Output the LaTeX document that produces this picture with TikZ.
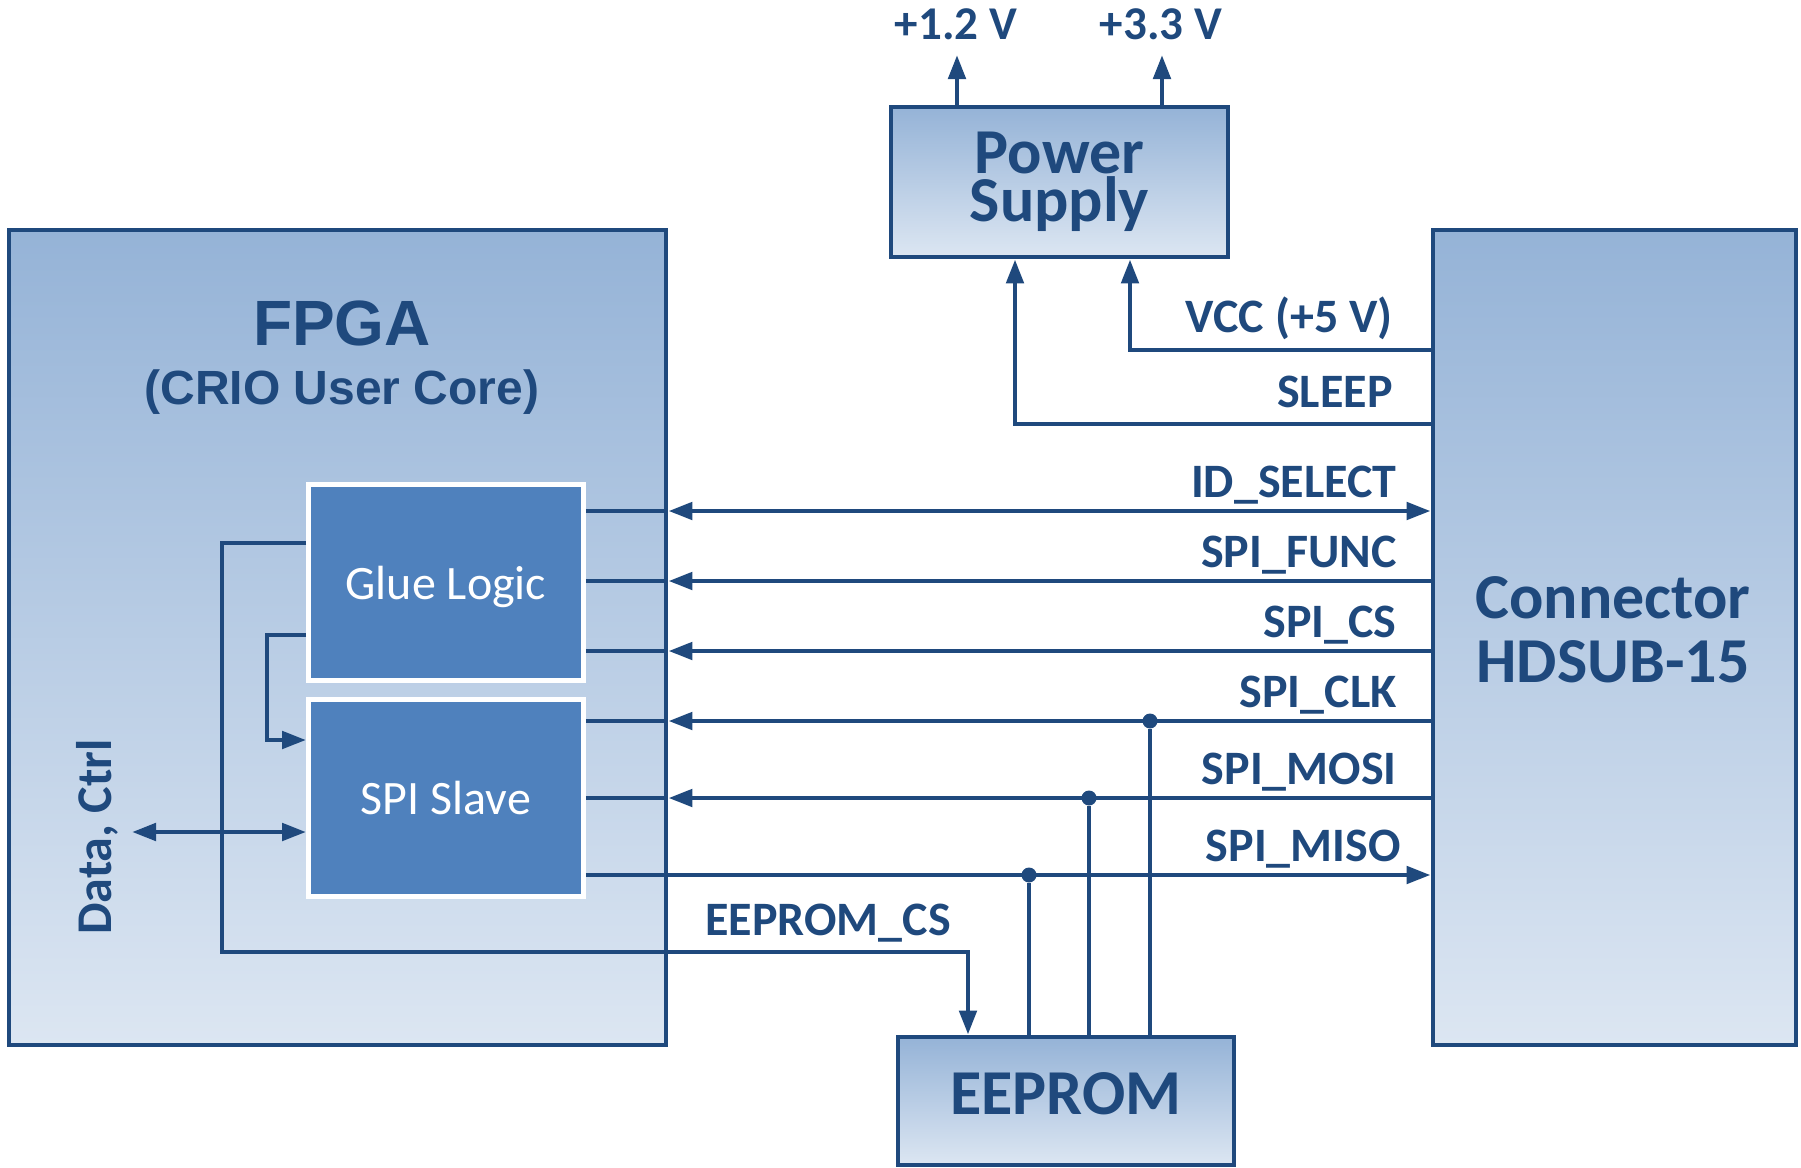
\documentclass[tikz,border=0pt]{standalone}
\usepackage{fontspec}
\setmainfont{Carlito}
\newfontfamily\arialfont{Liberation Sans}
\usetikzlibrary{arrows.meta}

\definecolor{dkblue}{HTML}{1F497D}
\definecolor{midblue}{HTML}{4F81BD}
\definecolor{topblue}{HTML}{95B3D7}
\definecolor{botblue}{HTML}{DCE6F2}

\tikzset{
  block/.style = {draw = dkblue, line width = 2.4pt, top color = topblue, bottom color = botblue,
                  text = dkblue, inner sep = 0pt, align = center},
  core/.style = {draw = white, line width = 2.4pt, fill = midblue, text = white, inner sep = 0pt,
                 text depth = 0pt, minimum width = 137.5pt, minimum height = 98pt,
                 font = \fontsize{24}{28}\selectfont},
  title/.style = {text = dkblue, inner sep = 0pt, align = center, font = \bfseries\fontsize{32}{32}\selectfont},
  wire/.style = {dkblue, line width = 2.4pt},
  sig/.style = {text = dkblue, inner sep = 0pt, anchor = base east, font = \bfseries\fontsize{24}{28}\selectfont},
  jdot/.style = {circle, fill = dkblue, inner sep = 0pt, minimum size = 7.5pt},
  >={Triangle[length = 12pt, width = 8.5pt]}
}

\begin{document}
\begin{tikzpicture}[x = 0.5pt, y = -0.5pt]
        \useasboundingbox (0,0) rectangle (1801,1168);

        % blocks
        \node[block, minimum width = 168.5pt, minimum height = 75pt, font = \bfseries\fontsize{32}{24}\selectfont]
            (power) at (1059.5,182) {Power\\Supply};
        \node[block, minimum width = 328.5pt, minimum height = 407.5pt] (fpga) at (337.5,637.5) {};
        \node[block, minimum width = 181.5pt, minimum height = 407.5pt] (conn) at (1614.5,637.5) {};
        \node[block, minimum width = 168pt, minimum height = 64pt, text depth = 7pt,
              font = \bfseries\fontsize{32}{32}\selectfont] (eeprom) at (1066,1101) {EEPROM};

        \node[title, anchor = base, font = \arialfont\bfseries\fontsize{32}{36}\selectfont] (fpganame) at (342,345) {FPGA};
        \node[title, anchor = base, font = \arialfont\bfseries\fontsize{24}{28}\selectfont] (fpgacore) at (342,404) {(CRIO User Core)};
        \node[title] (connname) at (1613,630) {Connector\\HDSUB-15};

        \node[core] (glue) at (446,582.5) {Glue Logic};
        \node[core, minimum height = 98.5pt] (spi) at (446,798) {SPI Slave};

        % signal rows
        \coordinate (vone) at (957,55);
        \coordinate (vthree) at (1162,55);
        \coordinate (vcc) at (1130,350);
        \coordinate (sleep) at (1015,424);
        \coordinate (idsel) at (0,511);
        \coordinate (func) at (0,581);
        \coordinate (cs) at (0,651);
        \coordinate (clk) at (0,721);
        \coordinate (mosi) at (0,798);
        \coordinate (miso) at (0,875);
        \coordinate (gluetap) at (0,543);
        \coordinate (loopin) at (267,635);
        \coordinate (loopout) at (0,740);
        \coordinate (ctrl) at (132,832);
        \coordinate (cscorner) at (222,952);
        \coordinate (csdrop) at (968,0);

        % supply
        \draw[wire, ->] (power.north -| vone) -- (vone);
        \draw[wire, ->] (power.north -| vthree) -- (vthree);
        \draw[wire, ->] (conn.west |- vcc) -| (power.south -| vcc);
        \draw[wire, ->] (conn.west |- sleep) -| (power.south -| sleep);

        % fpga to connector
        \draw[wire] (glue.east |- idsel) -- (fpga.east |- idsel);
        \draw[wire, <->] (fpga.east |- idsel) -- (conn.west |- idsel);
        \draw[wire] (glue.east |- func) -- (fpga.east |- func);
        \draw[wire, <-] (fpga.east |- func) -- (conn.west |- func);
        \draw[wire] (glue.east |- cs) -- (fpga.east |- cs);
        \draw[wire, <-] (fpga.east |- cs) -- (conn.west |- cs);
        \draw[wire] (spi.east |- clk) -- (fpga.east |- clk);
        \draw[wire, <-] (fpga.east |- clk) -- (conn.west |- clk);
        \draw[wire] (spi.east |- mosi) -- (fpga.east |- mosi);
        \draw[wire, <-] (fpga.east |- mosi) -- (conn.west |- mosi);
        \draw[wire, ->] (spi.east |- miso) -- (conn.west |- miso);

        % eeprom taps
        \node[jdot] (clkdot) at (1150,721) {};
        \node[jdot] (mosidot) at (1089,798) {};
        \node[jdot] (misodot) at (1029,875) {};
        \draw[wire] (clkdot) -- (eeprom.north -| clkdot);
        \draw[wire] (mosidot) -- (eeprom.north -| mosidot);
        \draw[wire] (misodot) -- (eeprom.north -| misodot);

        % inside the fpga
        \draw[wire, ->] (glue.west |- gluetap) -| (cscorner) -| (eeprom.north -| csdrop);
        \draw[wire, ->] (glue.west |- loopin) -- (loopin) |- (spi.west |- loopout);
        \draw[wire, <->] (ctrl) -- (spi.west |- ctrl);

        % labels
        \node[sig, anchor = base, font = \bfseries\fontsize{23.5}{28}\selectfont] (lone) at (956,39) {+1.2 V};
        \node[sig, anchor = base, font = \bfseries\fontsize{23.5}{28}\selectfont] (lthree) at (1161,39) {+3.3 V};
        \node[sig] (lvcc) at (1393,332) {VCC (+5 V)};
        \node[sig] (lsleep) at (1393,407) {SLEEP};
        \node[sig] (lidsel) at (1397,497) {ID\_SELECT};
        \node[sig] (lfunc) at (1397,567) {SPI\_FUNC};
        \node[sig] (lcs) at (1397,637) {SPI\_CS};
        \node[sig] (lclk) at (1397,707) {SPI\_CLK};
        \node[sig] (lmosi) at (1397,784) {SPI\_MOSI};
        \node[sig] (lmiso) at (1401,861) {SPI\_MISO};
        \node[sig, anchor = base west] (lcsrom) at (705,935) {EEPROM\_CS};
        \node[sig, rotate = 90, anchor = base, font = \bfseries\fontsize{25}{28}\selectfont] (lctrl) at (112,837) {Data, Ctrl};
    \end{tikzpicture}
\end{document}
